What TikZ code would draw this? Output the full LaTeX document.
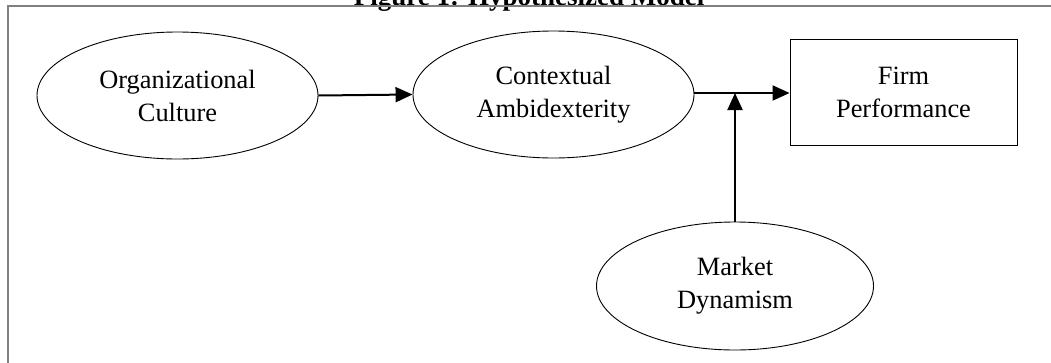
\documentclass[tikz,border=0pt]{standalone}
\usepackage{fontspec}
\setmainfont{Liberation Serif}
\usetikzlibrary{arrows.meta,shapes.geometric}
\begin{document}
\begin{tikzpicture}[x=1pt,y=-1pt,
  txt/.style={align=center,font=\fontsize{26.4}{33}\selectfont},
  ell/.style={ellipse,draw,line width=0.9pt,minimum width=281pt,minimum height=127pt,inner sep=0pt,txt},
  boxnode/.style={rectangle,draw,line width=0.9pt,minimum width=227pt,minimum height=106pt,inner sep=0pt,txt},
  arr/.style={line width=2pt,-{Triangle[length=17pt,width=15pt]}},
  frame/.style={draw=gray,line width=1.5pt}]
\clip (0,0) rectangle (1051,362);
\node[anchor=base,font=\bfseries\fontsize{27}{30}\selectfont] (title) at (529,5) {Figure 1: Hypothesized Model};
\draw[frame] (8,380) -- (8,6) -- (1070,6);
\node[ell] (oc) at (177.5,95.5) {Organizational\\Culture};
\node[ell] (ca) at (553.5,94.5) {Contextual\\Ambidexterity};
\node[boxnode] (fp) at (903.5,92) {Firm\\Performance};
\node[ell,minimum width=277pt,minimum height=128pt] (md) at (735,286) {Market\\Dynamism};
\coordinate (j) at (md.north |- 0,93);
\draw[arr] (oc.east) -- (ca.west);
\draw[arr] (ca.east |- j) -- (fp.west |- j);
\draw[arr] (md.north) -- (j);
\end{tikzpicture}
\end{document}
